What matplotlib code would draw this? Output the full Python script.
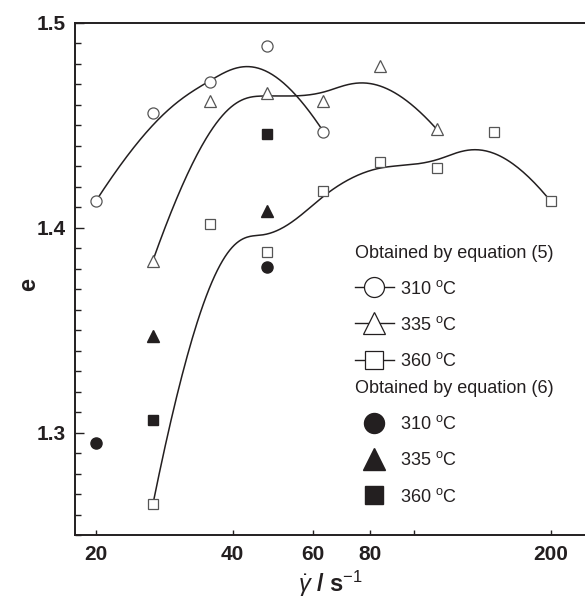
import matplotlib
matplotlib.use("Agg")
import matplotlib.pyplot as plt
from matplotlib.lines import Line2D
from matplotlib.ticker import FixedLocator, MultipleLocator
import numpy as np

plt.rcParams['font.family'] = ['Liberation Sans', 'DejaVu Sans']
plt.rcParams['mathtext.fontset'] = 'custom'
plt.rcParams['mathtext.rm'] = 'Liberation Sans'
plt.rcParams['mathtext.it'] = 'Liberation Sans:italic'
plt.rcParams['mathtext.bf'] = 'Liberation Sans:bold'

INK = '#231f20'
EDGE = '#555555'

# Obtained by equation (5)
x310 = [20, 26.7, 35.6, 47.5, 63.3]
e310 = [1.413, 1.456, 1.471, 1.489, 1.447]
x335 = [26.7, 35.6, 47.5, 63.3, 84.4, 112.5]
e335 = [1.384, 1.462, 1.466, 1.462, 1.479, 1.448]
x360 = [26.7, 35.6, 47.5, 63.3, 84.4, 112.5, 150, 200]
e360 = [1.265, 1.402, 1.388, 1.418, 1.432, 1.429, 1.447, 1.413]

# Obtained by equation (6)
x310_6 = [20, 47.5]
e310_6 = [1.295, 1.381]
x335_6 = [26.7, 47.5]
e335_6 = [1.347, 1.408]
x360_6 = [26.7, 47.5]
e360_6 = [1.306, 1.446]

xticks = [20, 40, 60, 80, 100, 200]
xticklabels = ['20', '40', '60', '80', '', '200']
temps = ['310', '335', '360']


def basis(i, k, t, knots):
    # Cox-de Boor recursion
    if k == 0:
        return ((knots[i] <= t) & (t < knots[i + 1])).astype(float)
    out = np.zeros_like(t)
    d1 = knots[i + k] - knots[i]
    d2 = knots[i + k + 1] - knots[i + 1]
    if d1 > 0:
        out += (t - knots[i]) / d1 * basis(i, k - 1, t, knots)
    if d2 > 0:
        out += (knots[i + k + 1] - t) / d2 * basis(i + 1, k - 1, t, knots)
    return out


def bspline(xs, ys, n=400):
    # clamped cubic B-spline with the points as control points (log x)
    px = np.log10(np.array(xs, float))
    py = np.array(ys, float)
    m = len(px)
    k = 3
    knots = [0] * k + list(range(m - k + 1)) + [m - k] * k
    knots = np.array(knots, float)
    t = np.linspace(0, m - k - 1e-9, n)
    cx = np.zeros(n)
    cy = np.zeros(n)
    for i in range(m):
        b = basis(i, k, t, knots)
        cx += b * px[i]
        cy += b * py[i]
    return 10 ** cx, cy


fig = plt.figure(figsize=(5.85, 6.03), dpi=100)
ax = fig.add_axes([75 / 585, 68 / 603, 510 / 585, 512 / 603])
ax.set_xscale('log')
ax.set_xlim(18, 238)
ax.set_ylim(1.25, 1.5)

markers = ['o', '^', 's']
sizes = [8, 9, 7.5]
open_sets = [(x310, e310), (x335, e335), (x360, e360)]
filled_sets = [(x310_6, e310_6), (x335_6, e335_6), (x360_6, e360_6)]

h5 = []
for (xs, ys), mk, ms in zip(open_sets, markers, sizes):
    cx, cy = bspline(xs, ys)
    ax.plot(cx, cy, color=INK, lw=1.1, zorder=2)
    ax.plot(xs, ys, ls='none', marker=mk, ms=ms, mfc='white', mec=EDGE, mew=0.9, zorder=3)
    h5.append(Line2D([], [], color=INK, lw=1.0, marker=mk, ms=ms * 1.8,
                     mfc='white', mec=INK, mew=0.9))

h6 = []
for (xs, ys), mk, ms in zip(filled_sets, markers, sizes):
    ax.plot(xs, ys, ls='none', marker=mk, ms=ms, mfc=INK, mec=INK, zorder=3)
    h6.append(Line2D([], [], ls='none', marker=mk, ms=ms * 1.8, mfc=INK, mec=INK))

labels = [t + r' $^{\mathrm{o}}$C' for t in temps]
leg_kw = dict(frameon=False, fontsize=13, handlelength=2.15, handletextpad=0.35,
              labelspacing=1.0, borderpad=0, borderaxespad=0, alignment='left',
              title_fontsize=13, loc='upper left')
leg1 = ax.legend(h5, labels, title='Obtained by equation (5)',
                 bbox_to_anchor=(0.549, 0.567), **leg_kw)
ax.add_artist(leg1)
leg2 = ax.legend(h6, labels, title='Obtained by equation (6)',
                 bbox_to_anchor=(0.549, 0.302), **leg_kw)
for lg in (leg1, leg2):
    lg.get_title().set_color(INK)
    for tx in lg.get_texts():
        tx.set_color(INK)

ax.xaxis.set_major_locator(FixedLocator(xticks))
ax.set_xticklabels(xticklabels)
ax.xaxis.set_minor_locator(FixedLocator([]))
ax.yaxis.set_major_locator(MultipleLocator(0.1))
ax.yaxis.set_minor_locator(MultipleLocator(0.01))
ax.yaxis.set_major_formatter(matplotlib.ticker.FormatStrFormatter('%.1f'))

ax.tick_params(axis='x', which='major', direction='in', length=3.5, width=1.0,
               pad=7, labelsize=15, colors=INK)
ax.tick_params(axis='y', which='major', direction='in', length=6.5, width=1.0,
               pad=7, labelsize=15, colors=INK)
ax.tick_params(axis='y', which='minor', direction='in', length=4, width=1.0, colors=INK)
for lab in ax.get_xticklabels() + ax.get_yticklabels():
    lab.set_fontweight('bold')

for side in ['left', 'top', 'bottom']:
    ax.spines[side].set_linewidth(1.4)
    ax.spines[side].set_color(INK)
ax.spines['right'].set_visible(False)

ax.set_ylabel('e', fontsize=17, fontweight='bold', color=INK, labelpad=0)
ax.yaxis.set_label_coords(-0.068, 0.49)
ax.set_xlabel(r'$\dot{\gamma}$ / s$^{-1}$', fontsize=17, fontweight='bold',
              color=INK, labelpad=4)

fig.savefig('out.png', dpi=100)
